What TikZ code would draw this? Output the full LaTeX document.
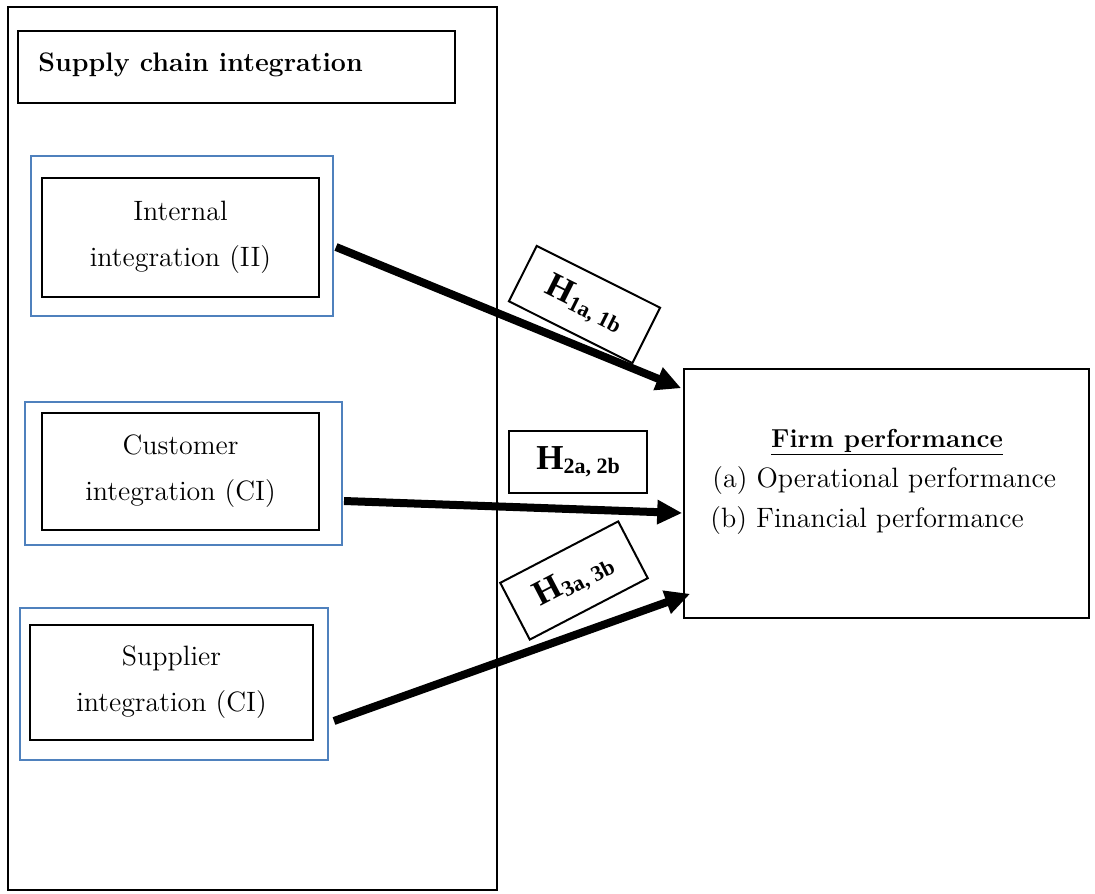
\documentclass[tikz,border=0pt]{standalone}
\usepackage{fontspec}
\newfontfamily\hypfont{Liberation Serif}
\usetikzlibrary{arrows.meta,calc}
\definecolor{frameblue}{RGB}{79,129,189}
\newcommand{\hyplabel}[1]{{\hypfont\bfseries\fontsize{17.5}{18}\selectfont H\raisebox{-2pt}{\fontsize{11}{12}\selectfont #1}}}

\begin{document}
\begin{tikzpicture}[x=0.5pt, y=-0.5pt,
    bluebox/.style={draw=frameblue, line width=1pt, inner sep=0pt},
    blackbox/.style={draw, line width=1pt, inner sep=0pt, align=center,
        font=\fontsize{14}{23}\selectfont},
    hypbox/.style={draw, fill=white, line width=1pt, inner sep=0pt},
    path/.style={line width=4pt, -{Triangle[length=12.5pt, width=11.5pt]}}]
    \useasboundingbox (0,0) rectangle (1095,893);

    % Outer frame and heading
    \node[draw, line width=0.8pt, minimum width=244.5pt, minimum height=441.5pt] (sci) at (252.5,448.5) {};
    \node[draw, line width=0.8pt, minimum width=218.5pt, minimum height=36pt] (head) at (236.5,67) {};
    \node[anchor=base west, inner sep=0pt, font=\bfseries\fontsize{13.4}{16}\selectfont] (headtext) at (38,72) {Supply chain integration};

    % Internal integration
    \node[bluebox, minimum width=151pt, minimum height=80pt] (iiout) at (182,236) {};
    \node[blackbox, minimum width=138.5pt, minimum height=59.5pt] (ii) at (180.5,237.5) {Internal\\integration (II)};

    % Customer integration
    \node[bluebox, minimum width=158.5pt, minimum height=71.5pt] (ciout) at (183.5,473.5) {};
    \node[blackbox, minimum width=138.5pt, minimum height=58.5pt] (ci) at (180.5,471.5) {Customer\\integration (CI)};

    % Supplier integration
    \node[bluebox, minimum width=154pt, minimum height=76pt] (siout) at (174,684) {};
    \node[blackbox, minimum width=141.5pt, minimum height=57.5pt] (si) at (171.5,682.5) {Supplier\\integration (CI)};

    % Firm performance
    \node[draw, line width=0.8pt, minimum width=202.5pt, minimum height=124.5pt] (firm) at (886.5,493.5) {};
    \node[anchor=base, inner sep=0pt, font=\bfseries\fontsize{13}{16}\selectfont] (fptitle) at (887,447) {\underline{Firm performance}};
    \node[anchor=base west, inner sep=0pt, font=\fontsize{14}{20}\selectfont] (fpa) at (712,487) {(a) Operational performance};
    \node[anchor=base west, inner sep=0pt, font=\fontsize{14}{20}\selectfont] (fpb) at (710,527) {(b) Financial performance};

    % Hypotheses
    \node[hypbox, minimum width=69pt, minimum height=31pt, rotate=-26.6] (hone) at (584.5,304.5) {\hyplabel{1a, 1b}};
    \node[hypbox, minimum width=69pt, minimum height=31pt] (htwo) at (578,462) {\hyplabel{2a, 2b}};
    \node[hypbox, minimum width=66.5pt, minimum height=32pt, rotate=27.5] (hthree) at (574,580.5) {\hyplabel{3a, 3b}};

    % Paths
    \draw[path] ($(iiout.east)+(2,11)$) -- ($(firm.north west)+(-2,20)$);
    \draw[path] ($(ciout.east)+(1,27.5)$) -- ($(firm.west)+(-1,19.5)$);
    \draw[path] ($(siout.east)+(5,37)$) -- ($(firm.south west)+(7,-25)$);
\end{tikzpicture}
\end{document}
